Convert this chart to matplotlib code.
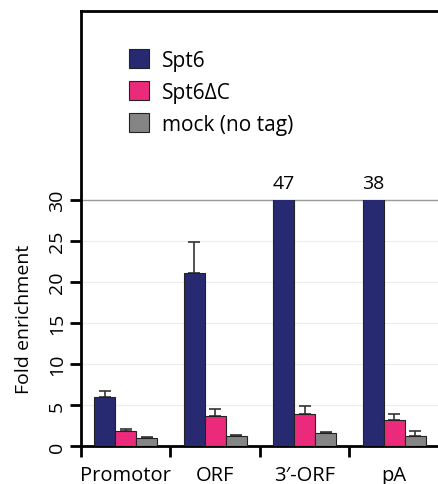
import numpy as np
import matplotlib.pyplot as plt
from matplotlib.patches import Rectangle

# 各區段的 ChIP 富集倍數
regions = ['Promotor', 'ORF', '3\u2032-ORF', 'pA']
series = ['Spt6', 'Spt6\u0394C', 'mock (no tag)']
spt6 = [5.95, 21.1, 47, 38]
spt6_err = [0.7, 3.7, 0, 0]
spt6_dc = [1.87, 3.7, 3.87, 3.2]
spt6_dc_err = [0.25, 0.8, 1.05, 0.7]
mock = [0.98, 1.26, 1.58, 1.26]
mock_err = [0.12, 0.12, 0.17, 0.55]

colors = ['#272a70', '#ec2a7c', '#858585']
cap = 30  # 軸在 30 截斷，超過的柱子標上數值

plt.rcParams['font.family'] = ['Open Sans', 'DejaVu Sans']

fig = plt.figure(figsize=(4.39, 4.85), dpi=100)
ax = fig.add_axes([0.1845, 0.0784, 0.8155, 0.8966])

x = np.arange(len(regions))
w = 0.236
offsets = [-w, 0, w]
values = [spt6, spt6_dc, mock]
errors = [spt6_err, spt6_dc_err, mock_err]

ax.set_xlim(-0.5, 3.5)
ax.set_ylim(0, 53)

clip = Rectangle((-0.5, 0), 4, cap, transform=ax.transData)

for vals, errs, c, off, name in zip(values, errors, colors, offsets, series):
    bars = ax.bar(x + off, vals, w, color=c, edgecolor='#222222', linewidth=0.8,
                  label=name, zorder=3)
    for b in bars:
        b.set_clip_path(clip)
    for xi, v, e in zip(x, vals, errs):
        if e > 0 and v < cap:
            ax.errorbar(xi + off, v, yerr=[[0], [e]], fmt='none', ecolor='#333333',
                        elinewidth=1.2, capsize=4, capthick=1.2, zorder=2)
        if v > cap:
            ax.text(xi + off, cap + 1.0, f'{v:g}', ha='center', va='bottom', fontsize=14)

# 網格線
for yv in [5, 10, 15, 20, 25]:
    ax.axhline(yv, color='#ececec', linewidth=0.8, zorder=0)
ax.axhline(30, color='#9a9a9a', linewidth=1.0, zorder=1)

ax.spines['right'].set_visible(False)
for s in ['left', 'top', 'bottom']:
    ax.spines[s].set_linewidth(2.0)

ax.set_yticks([0, 5, 10, 15, 20, 25, 30])
ax.tick_params(axis='y', direction='out', length=8, width=2, labelsize=14,
               labelrotation=90, pad=3)
for lbl in ax.get_yticklabels():
    lbl.set_va('center')

ax.set_xticks(x)
ax.set_xticklabels(regions, fontsize=14.5)
ax.tick_params(axis='x', length=0, pad=14)
ax.set_xticks(np.arange(-0.5, 3.6, 1), minor=True)
ax.tick_params(axis='x', which='minor', direction='out', length=8, width=2)

ax.set_ylabel('Fold enrichment', fontsize=14)
ax.yaxis.set_label_coords(-0.135, 15.5 / 53)

ax.legend(loc='upper left', bbox_to_anchor=(0.082, 0.955), frameon=False, fontsize=15,
          handlelength=0.95, handleheight=1.0, handletextpad=0.65, labelspacing=0.5)

fig.savefig('out.png', dpi=100, facecolor='white')
